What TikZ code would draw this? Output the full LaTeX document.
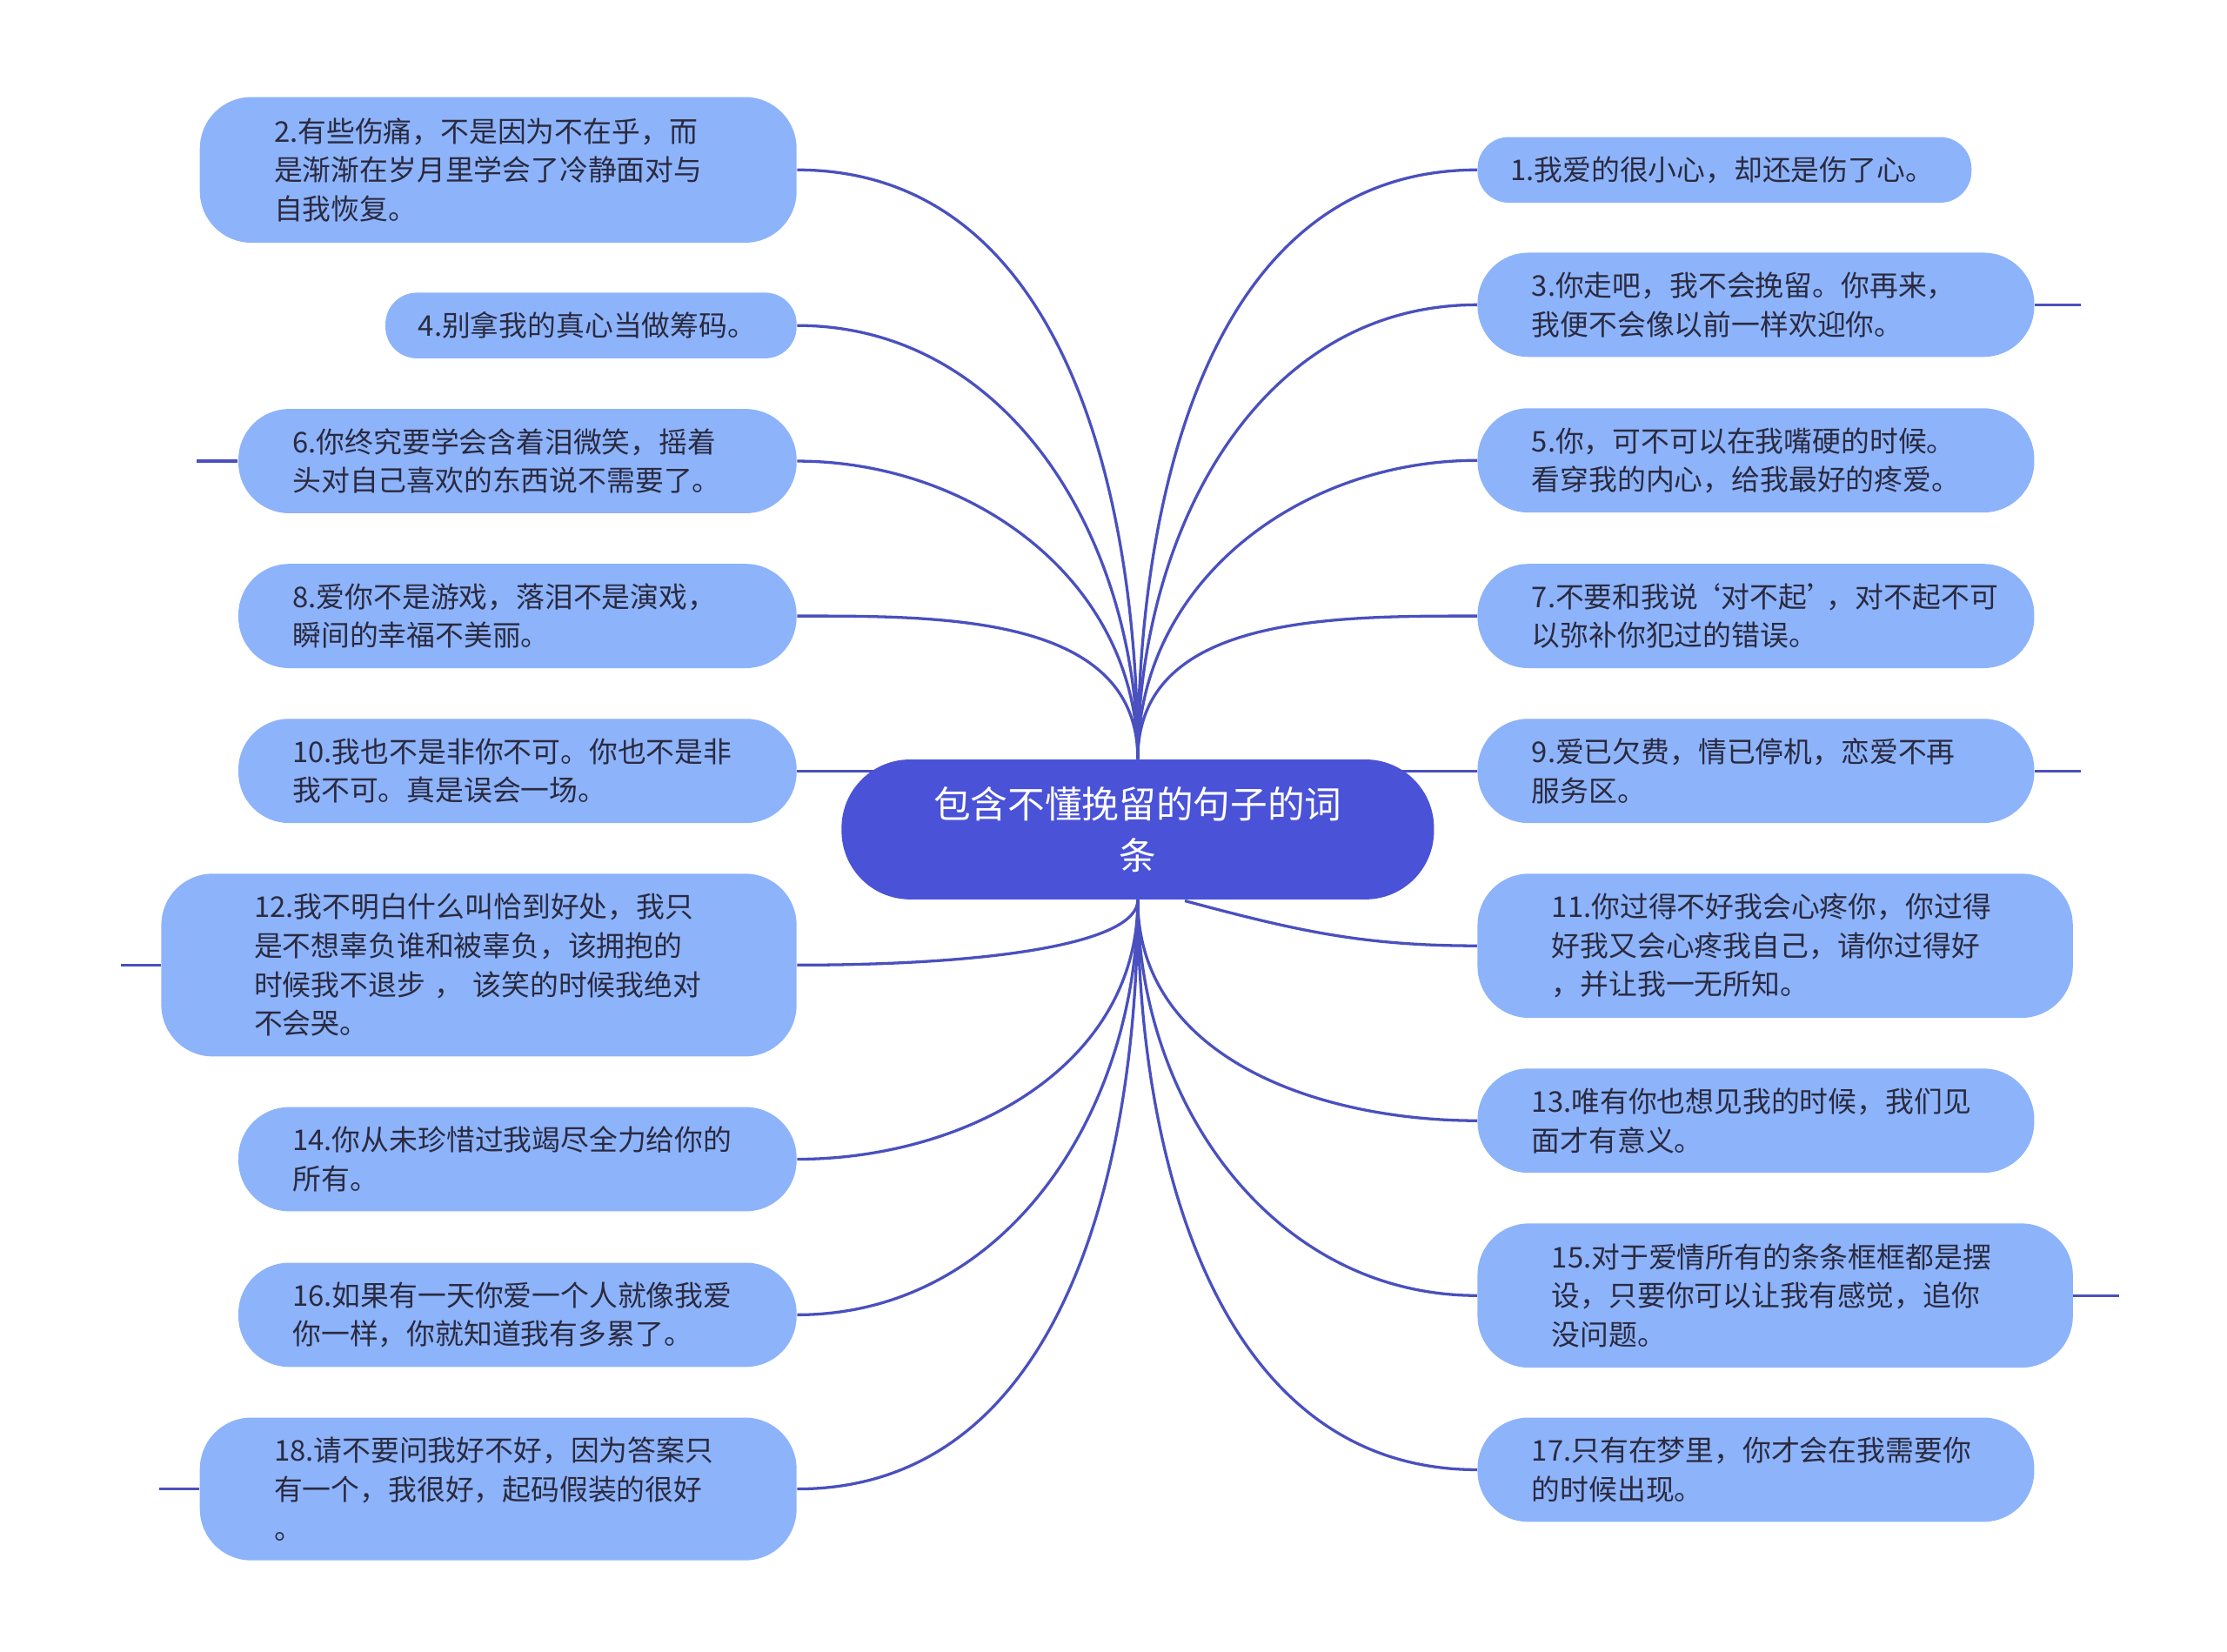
\documentclass[tikz,border=0pt]{standalone}
\usepackage{fontspec}
\setmainfont{Noto Sans CJK SC}
\usetikzlibrary{backgrounds}
\definecolor{ln}{HTML}{4A50BE}
\definecolor{bf}{HTML}{8DB3FA}
\definecolor{cf}{HTML}{4A52D8}
\definecolor{tx}{HTML}{2A2A40}
\tikzset{box/.style={fill=bf,inner xsep=0pt,inner ysep=0pt,align=left,font=\fontsize{10pt}{13.6pt}\selectfont,text=tx},
 conn/.style={draw=ln,line width=1pt}}
\newcommand\bx[7]{%
 \pgfmathsetlengthmacro\tw{(#4-2*#6)*0.5pt}%
 \pgfmathsetlengthmacro\mw{#4*0.5pt}%
 \pgfmathsetlengthmacro\mh{#5*0.5pt}%
 \pgfmathsetlengthmacro\rc{min(18,#5*0.25-0.5)*1pt}%
 \node[box,rounded corners=\rc,minimum width=\mw,minimum height=\mh,text width=\tw] (#1) at (#2,#3) {#7};}
\begin{document}
\begin{tikzpicture}[x=0.5pt,y=-0.5pt]
\useasboundingbox (0,0) rectangle (1560,1157);
\node[fill=cf,rounded corners=24pt,minimum width=207.5pt,minimum height=49pt,align=center,text=white,font=\fontsize{13pt}{18pt}\selectfont] (c) at (797,581) {包含不懂挽留的句子的词\\条};
\bx{n2}{349}{119}{418}{102}{52}{2.有些伤痛，不是因为不在乎，而\\是渐渐在岁月里学会了冷静面对与\\自我恢复。}
\bx{n4}{414}{228}{288}{46}{23}{4.别拿我的真心当做筹码。}
\bx{n6}{362.5}{323}{391}{73}{38}{6.你终究要学会含着泪微笑，摇着\\头对自己喜欢的东西说不需要了。}
\bx{n8}{362.5}{431.5}{391}{73}{38}{8.爱你不是游戏，落泪不是演戏，\\瞬间的幸福不美丽。}
\bx{n10}{362.5}{540}{391}{73}{38}{10.我也不是非你不可。你也不是非\\我不可。真是误会一场。}
\bx{n12}{335.5}{676}{445}{128}{65}{12.我不明白什么叫恰到好处，我只\\是不想辜负谁和被辜负，该拥抱的\\时候我不退步 ， 该笑的时候我绝对\\不会哭。}
\bx{n14}{362.5}{812}{391}{73}{38}{14.你从未珍惜过我竭尽全力给你的\\所有。}
\bx{n16}{362.5}{921}{391}{73}{38}{16.如果有一天你爱一个人就像我爱\\你一样，你就知道我有多累了。}
\bx{n18}{349}{1043}{418}{100}{52}{18.请不要问我好不好，因为答案只\\有一个，我很好，起码假装的很好\\。}
\bx{n1}{1208}{119}{346}{46}{23}{1.我爱的很小心，却还是伤了心。}
\bx{n3}{1230}{213.5}{390}{73}{38}{3.你走吧，我不会挽留。你再来，\\我便不会像以前一样欢迎你。}
\bx{n5}{1230}{322.5}{390}{73}{38}{5.你，可不可以在我嘴硬的时候。\\看穿我的内心，给我最好的疼爱。}
\bx{n7}{1230}{431.5}{390}{73}{38}{7.不要和我说\kern-0.2em‘对不起’\kern-0.3em，对不起不可\\以弥补你犯过的错误。}
\bx{n9}{1230}{540}{390}{73}{38}{9.爱已欠费，情已停机，恋爱不再\\服务区。}
\bx{n11}{1243.5}{662.5}{417}{101}{52}{11.你过得不好我会心疼你，你过得\\好我又会心疼我自己，请你过得好\\，并让我一无所知。}
\bx{n13}{1230}{785}{390}{73}{38}{13.唯有你也想见我的时候，我们见\\面才有意义。}
\bx{n15}{1243.5}{907.5}{417}{101}{52}{15.对于爱情所有的条条框框都是摆\\设，只要你可以让我有感觉，追你\\没问题。}
\bx{n17}{1230}{1029.5}{390}{73}{38}{17.只有在梦里，你才会在我需要你\\的时候出现。}
\begin{scope}[on background layer]
\foreach \n in {n2,n4,n6,n8} \draw[conn] (c.north) to[out=90,in=0] (\n.east);
\foreach \n in {n1,n3,n5,n7} \draw[conn] (c.north) to[out=90,in=180] (\n.west);
\foreach \n in {n14,n16,n18} \draw[conn] (c.south) to[out=-90,in=0] (\n.east);
\draw[conn] (c.south) .. controls (797,660) and (700,676) .. (n12.east);
\foreach \n in {n13,n15,n17} \draw[conn] (c.south) to[out=-90,in=180] (\n.west);
\draw[conn] (n10.east) -- (620,540);
\draw[conn] (n9.west) -- (975,540);
\draw[conn] (830,631) to[out=-15,in=180] (n11.west);
\draw[conn] (n6.west) -- ++(-29,0);
\draw[conn] (n12.west) -- ++(-28,0);
\draw[conn] (n18.west) -- ++(-28,0);
\draw[conn] (n3.east) -- ++(32,0);
\draw[conn] (n9.east) -- ++(32,0);
\draw[conn] (n15.east) -- ++(32,0);
\end{scope}
\end{tikzpicture}
\end{document}
